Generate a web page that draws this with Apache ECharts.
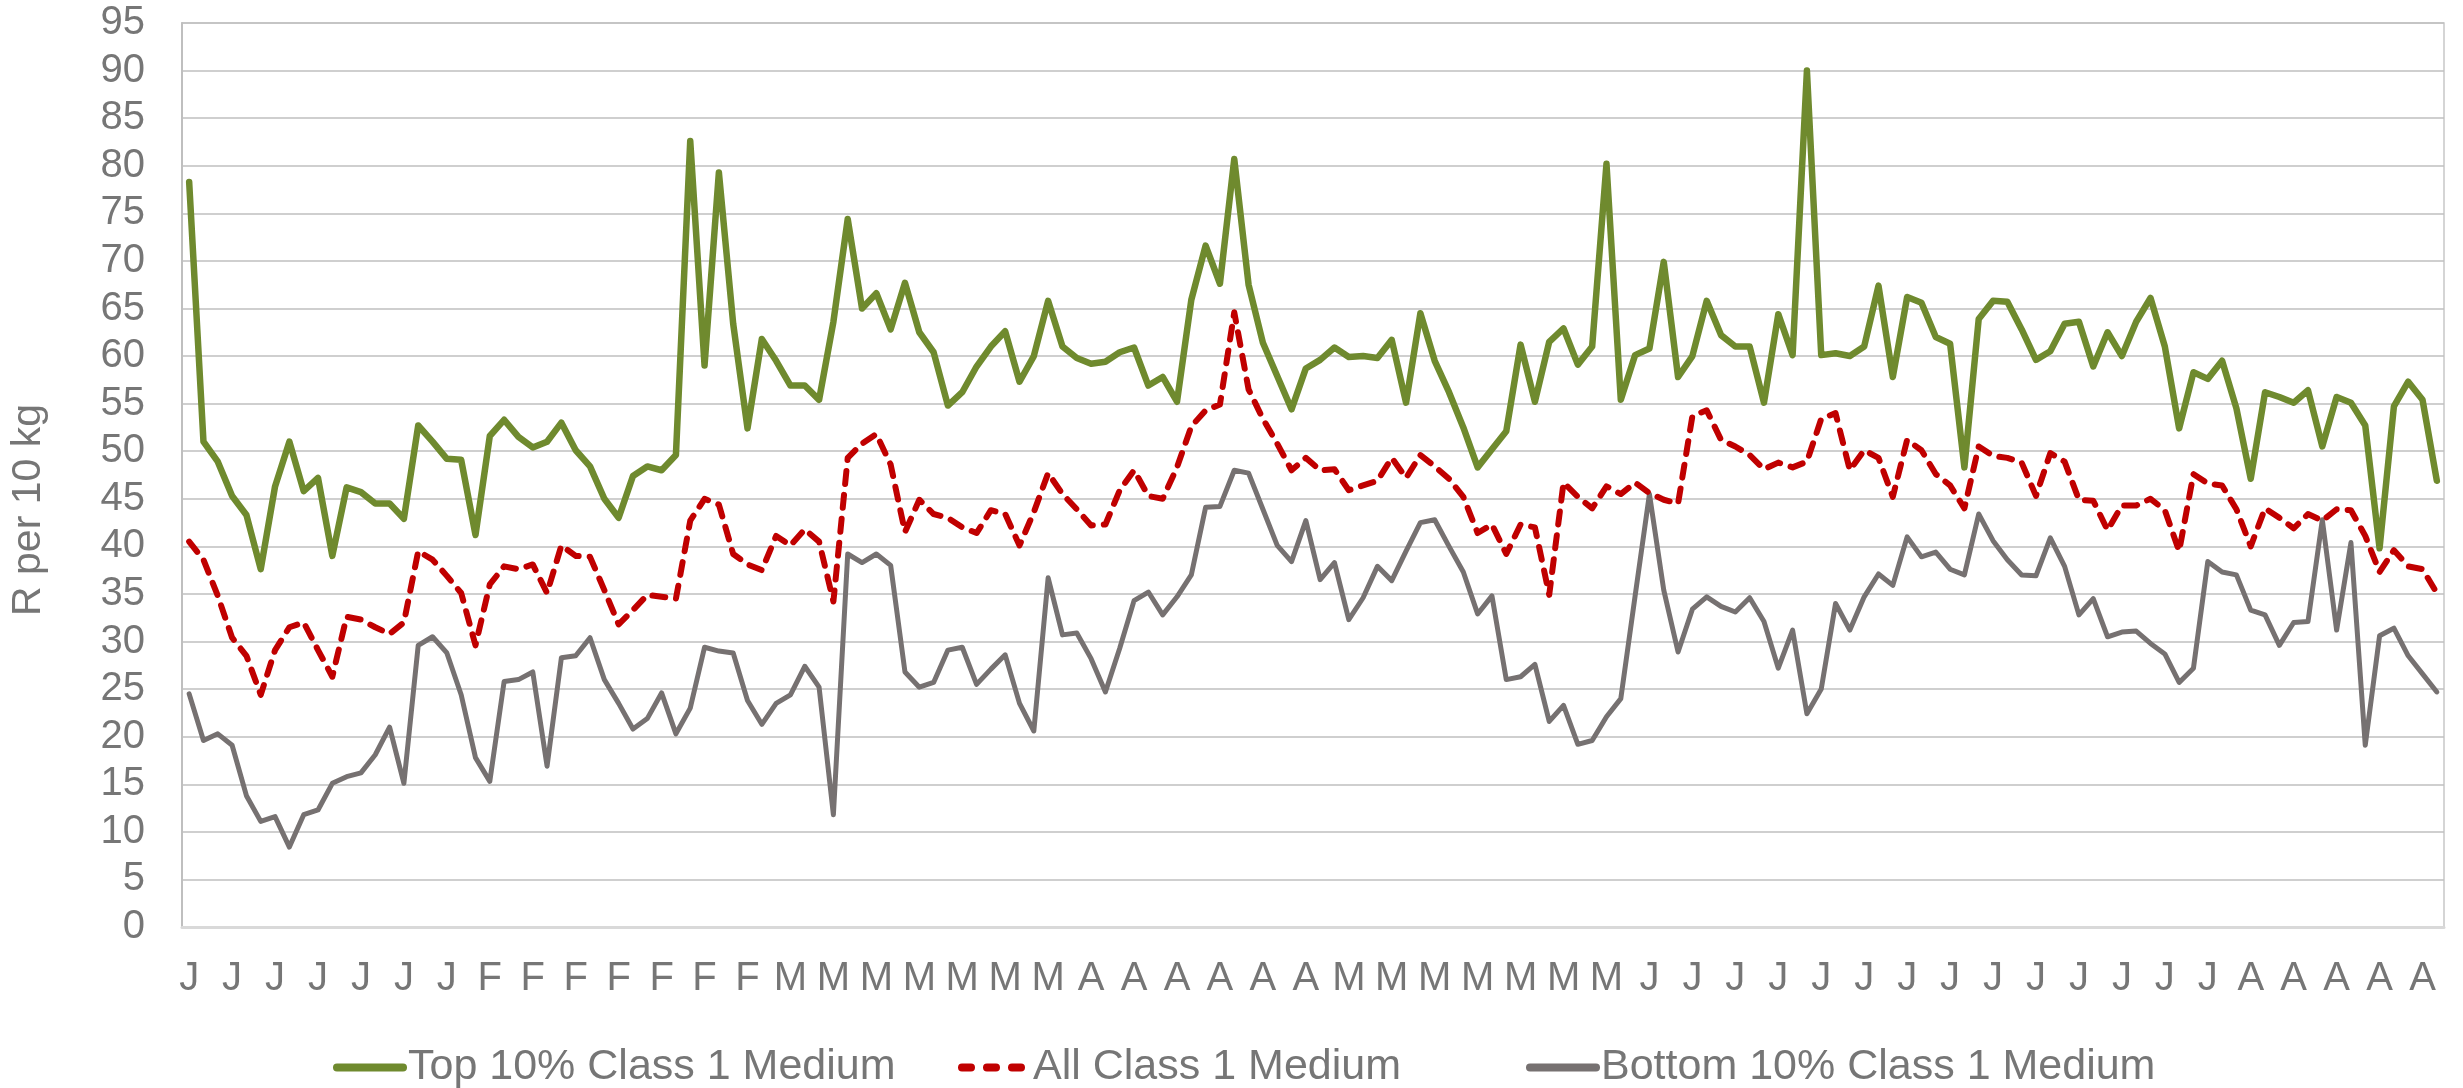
<!DOCTYPE html>
<html>
<head>
<meta charset="utf-8">
<title>R per 10 kg</title>
<script src="https://cdn.jsdelivr.net/npm/echarts/dist/echarts.min.js"></script>
<style>
  html, body { margin: 0; padding: 0; background: #fff; }
  #chart { width: 2463px; height: 1088px; }
</style>
</head>
<body>
<div id="chart"></div>
<script>
// month initial shown under each trading day, and how many days each month has in the series
const monthInitials = ['J', 'F', 'M', 'A', 'M', 'J', 'J', 'A']
const daysPerMonth = [21, 20, 22, 18, 21, 22, 19, 15]

const seriesNames = ['Top 10% Class 1 Medium', 'All Class 1 Medium', 'Bottom 10% Class 1 Medium']

const top10 = [
  78.3, 51.0, 48.9, 45.3, 43.3, 37.6, 46.3, 51.0, 45.8, 47.2,
  39.0, 46.2, 45.7, 44.5, 44.5, 42.9, 52.7, 51.0, 49.2, 49.1,
  41.2, 51.6, 53.3, 51.5, 50.4, 51.0, 53.0, 50.1, 48.4, 45.0,
  43.0, 47.4, 48.4, 48.0, 49.6, 82.6, 59.0, 79.3, 63.4, 52.4,
  61.8, 59.5, 56.9, 56.9, 55.4, 63.6, 74.4, 65.0, 66.6, 62.8,
  67.7, 62.5, 60.4, 54.8, 56.2, 58.9, 61.0, 62.6, 57.3, 60.0,
  65.8, 61.0, 59.8, 59.2, 59.4, 60.4, 60.9, 56.9, 57.8, 55.2,
  65.9, 71.6, 67.6, 80.7, 67.5, 61.4, 57.9, 54.4, 58.7, 59.6,
  60.9, 59.9, 60.0, 59.8, 61.7, 55.1, 64.5, 59.5, 56.2, 52.5,
  48.3, 50.2, 52.1, 61.2, 55.2, 61.5, 62.9, 59.1, 61.0, 80.2,
  55.4, 60.1, 60.8, 69.9, 57.8, 60.0, 65.8, 62.2, 61.0, 61.0,
  55.1, 64.4, 60.1, 90.0, 60.1, 60.3, 60.0, 61.0, 67.4, 57.8,
  66.2, 65.6, 62.0, 61.3, 48.3, 63.9, 65.8, 65.7, 62.8, 59.6,
  60.5, 63.4, 63.6, 58.9, 62.5, 60.0, 63.6, 66.1, 61.0, 52.4,
  58.3, 57.6, 59.5, 54.5, 47.1, 56.2, 55.7, 55.1, 56.4, 50.5,
  55.7, 55.1, 52.7, 39.8, 54.7, 57.3, 55.4, 46.9
]

const allClass1 = [
  40.5, 38.6, 34.8, 30.4, 28.5, 24.4, 29.1, 31.5, 32.0, 29.1,
  26.3, 32.6, 32.3, 31.5, 30.8, 32.0, 39.5, 38.6, 36.9, 35.1,
  29.6, 36.0, 37.9, 37.6, 38.1, 35.1, 40.1, 39.0, 38.9, 35.4,
  31.8, 33.3, 34.9, 34.7, 34.5, 42.7, 45.0, 44.4, 39.2, 38.1,
  37.5, 41.1, 40.1, 41.8, 40.5, 34.2, 49.3, 50.8, 51.8, 48.6,
  41.5, 44.9, 43.4, 43.0, 42.0, 41.4, 43.8, 43.4, 40.1, 43.6,
  47.7, 45.5, 43.9, 42.2, 42.3, 45.9, 48.0, 45.3, 45.0, 48.3,
  52.6, 54.3, 54.9, 64.6, 56.5, 53.4, 50.8, 48.0, 49.3, 48.0,
  48.1, 45.9, 46.4, 46.9, 49.3, 47.2, 49.6, 48.4, 47.1, 45.2,
  41.4, 42.3, 39.2, 42.3, 42.0, 34.9, 46.7, 45.2, 44.0, 46.3,
  45.5, 46.7, 45.6, 44.9, 44.5, 53.7, 54.3, 51.2, 50.5, 49.6,
  48.1, 48.8, 48.3, 48.9, 53.4, 54.0, 48.0, 50.1, 49.3, 45.2,
  51.2, 50.1, 47.6, 46.4, 44.0, 50.5, 49.5, 49.3, 48.8, 45.3,
  49.8, 48.9, 44.9, 44.8, 41.7, 44.3, 44.3, 45.0, 43.8, 39.5,
  47.6, 46.6, 46.4, 43.9, 40.0, 44.0, 43.0, 41.9, 43.4, 42.7,
  43.9, 43.8, 41.1, 37.3, 39.6, 37.9, 37.6, 35.1
]

const bottom10 = [
  24.5, 19.6, 20.3, 19.1, 13.8, 11.1, 11.6, 8.4, 11.8, 12.3,
  15.1, 15.8, 16.2, 18.1, 21.0, 15.1, 29.6, 30.5, 28.8, 24.4,
  17.8, 15.3, 25.8, 26.0, 26.8, 16.9, 28.3, 28.5, 30.4, 26.0,
  23.5, 20.8, 21.9, 24.6, 20.3, 23.0, 29.4, 29.0, 28.8, 23.8,
  21.3, 23.5, 24.4, 27.4, 25.2, 11.8, 39.2, 38.3, 39.2, 38.0,
  26.8, 25.2, 25.7, 29.1, 29.4, 25.5, 27.1, 28.6, 23.5, 20.6,
  36.7, 30.7, 30.9, 28.2, 24.7, 29.3, 34.3, 35.2, 32.8, 34.7,
  37.0, 44.1, 44.2, 48.0, 47.7, 43.9, 40.1, 38.4, 42.7, 36.5,
  38.3, 32.3, 34.6, 37.9, 36.4, 39.5, 42.5, 42.8, 40.0, 37.3,
  32.9, 34.8, 26.0, 26.3, 27.6, 21.6, 23.3, 19.2, 19.6, 22.1,
  24.0, 34.8, 45.5, 35.4, 28.9, 33.4, 34.7, 33.7, 33.1, 34.6,
  32.1, 27.2, 31.2, 22.4, 25.0, 34.0, 31.2, 34.7, 37.1, 35.9,
  41.0, 38.9, 39.4, 37.6, 37.0, 43.4, 40.6, 38.6, 37.0, 36.9,
  40.9, 37.9, 32.8, 34.5, 30.5, 31.0, 31.1, 29.8, 28.7, 25.7,
  27.2, 38.4, 37.3, 37.0, 33.3, 32.8, 29.6, 32.0, 32.1, 42.8,
  31.2, 40.4, 19.1, 30.6, 31.4, 28.5, 26.6, 24.7
]

const categories = []
monthInitials.forEach((m, k) => {
  for (let d = 0; d < daysPerMonth[k]; d++) categories.push(m)
})

const FONT = "'Liberation Sans', Arial, sans-serif"
const TEXT = '#767676'
const GREEN = '#6F8A2E'
const RED = '#C00000'
const GREY = '#767171'

// one legend per entry so each can sit where Excel put it
const legendLeft = [328, 953, 1521]
const legendLine = [
  { width: 8, cap: 'round' },
  { width: 8, type: [9, 16], cap: 'round' },
  { width: 8, cap: 'round' },
]

const chart = echarts.init(document.getElementById('chart'), null, { renderer: 'canvas' })

chart.setOption({
  animation: false,
  textStyle: { fontFamily: FONT },
  grid: {
    left: 180, right: 19, top: 23, bottom: 161,
    show: true, borderColor: '#C8C8C8', borderWidth: 1.5,
  },
  legend: seriesNames.map((name, k) => ({
    left: legendLeft[k],
    top: 1041,
    itemWidth: 66,
    itemHeight: 14,
    itemStyle: { opacity: 0 },
    textStyle: { color: TEXT, fontSize: 43, fontFamily: FONT },
    data: [{ name, lineStyle: legendLine[k] }],
  })),
  xAxis: {
    type: 'category',
    data: categories,
    boundaryGap: true,
    axisTick: { show: false },
    axisLine: { lineStyle: { color: '#D9D9D9', width: 3 } },
    axisLabel: { interval: 2, color: TEXT, fontSize: 40, margin: 32, fontFamily: FONT },
  },
  yAxis: {
    type: 'value',
    min: 0,
    max: 95,
    interval: 5,
    name: 'R per 10 kg',
    nameLocation: 'middle',
    nameGap: 133,
    nameTextStyle: { color: TEXT, fontSize: 41, fontFamily: FONT, padding: [0, 70, 0, 0] },
    axisLine: { show: true, lineStyle: { color: '#BFBFBF', width: 2 } },
    axisTick: { show: false },
    axisLabel: { color: TEXT, fontSize: 40, margin: 37, fontFamily: FONT },
    splitLine: { lineStyle: { color: '#BFBFBF', width: 1.5 } },
  },
  series: [
    {
      name: seriesNames[0],
      type: 'line',
      data: top10,
      symbol: 'none',
      lineStyle: { color: GREEN, width: 6.5, join: 'round', cap: 'round' },
      itemStyle: { color: GREEN },
      z: 3,
    },
    {
      name: seriesNames[1],
      type: 'line',
      data: allClass1,
      symbol: 'none',
      lineStyle: { color: RED, width: 6, type: [13, 11], cap: 'round', join: 'round' },
      itemStyle: { color: RED },
      z: 4,
    },
    {
      name: seriesNames[2],
      type: 'line',
      data: bottom10,
      symbol: 'none',
      lineStyle: { color: GREY, width: 5, join: 'round', cap: 'round' },
      itemStyle: { color: GREY },
      z: 2,
    },
  ],
})
</script>
</body>
</html>
